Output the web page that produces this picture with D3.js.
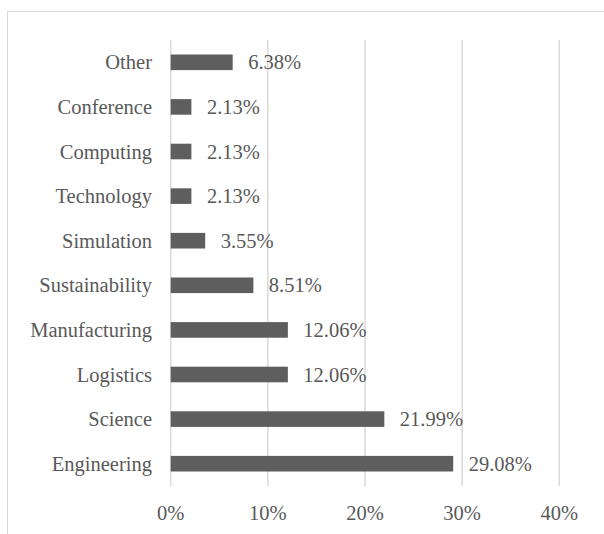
<!DOCTYPE html>
<html>
<head>
<meta charset="utf-8">
<script src="https://cdn.jsdelivr.net/npm/d3@7"></script>
<style>
  html, body { margin: 0; padding: 0; background: #fff; }
  svg { display: block; }
</style>
</head>
<body>
<svg id="chart" width="604" height="534"></svg>
<script>
// Share of items per category (percent), listed top to bottom
const categories = ["Other", "Conference", "Computing", "Technology", "Simulation",
  "Sustainability", "Manufacturing", "Logistics", "Science", "Engineering"];
const shares = [6.38, 2.13, 2.13, 2.13, 3.55, 8.51, 12.06, 12.06, 21.99, 29.08];
const xTicks = [0, 10, 20, 30, 40];

const svg = d3.select("#chart")
  .attr("font-family", "'Liberation Serif', 'DejaVu Serif', serif");
const fontSize = 20.5;
const textColor = "#595959";

// Outer chart frame
svg.append("rect")
  .attr("x", 7.5).attr("y", 11.5)
  .attr("width", 620).attr("height", 540)
  .attr("fill", "none").attr("stroke", "#d9d9d9").attr("stroke-width", 1);

const plot = { left: 170.7, right: 559.3, top: 40, bottom: 486 };

const x = d3.scaleLinear().domain([0, 40]).range([plot.left, plot.right]);
const y = d3.scaleBand().domain(categories).range([plot.top, plot.bottom]).paddingInner(0.65).paddingOuter(0.325);

// Vertical gridlines
svg.append("g").selectAll("line").data(xTicks).join("line")
  .attr("x1", d => x(d)).attr("x2", d => x(d))
  .attr("y1", plot.top).attr("y2", plot.bottom)
  .attr("stroke", "#d9d9d9").attr("stroke-width", 1.5);

// Bars
svg.append("g").selectAll("rect").data(categories).join("rect")
  .attr("x", x(0))
  .attr("y", d => y(d))
  .attr("width", (d, i) => x(shares[i]) - x(0))
  .attr("height", y.bandwidth())
  .attr("fill", "#5e5e5e");

// Value labels
svg.append("g").selectAll("text").data(categories).join("text")
  .attr("x", (d, i) => x(shares[i]) + 15.5)
  .attr("y", d => y(d) + y.bandwidth() / 2)
  .attr("dy", "0.35em")
  .attr("font-size", fontSize)
  .attr("fill", textColor)
  .text((d, i) => shares[i].toFixed(2) + "%");

// Category axis labels
svg.append("g").selectAll("text").data(categories).join("text")
  .attr("x", 152)
  .attr("y", d => y(d) + y.bandwidth() / 2)
  .attr("dy", "0.35em")
  .attr("text-anchor", "end")
  .attr("font-size", fontSize)
  .attr("fill", textColor)
  .text(d => d);

// X axis tick labels
svg.append("g").selectAll("text").data(xTicks).join("text")
  .attr("x", d => x(d))
  .attr("y", 513)
  .attr("dy", "0.35em")
  .attr("text-anchor", "middle")
  .attr("font-size", fontSize)
  .attr("fill", textColor)
  .text(d => d + "%");
</script>
</body>
</html>
